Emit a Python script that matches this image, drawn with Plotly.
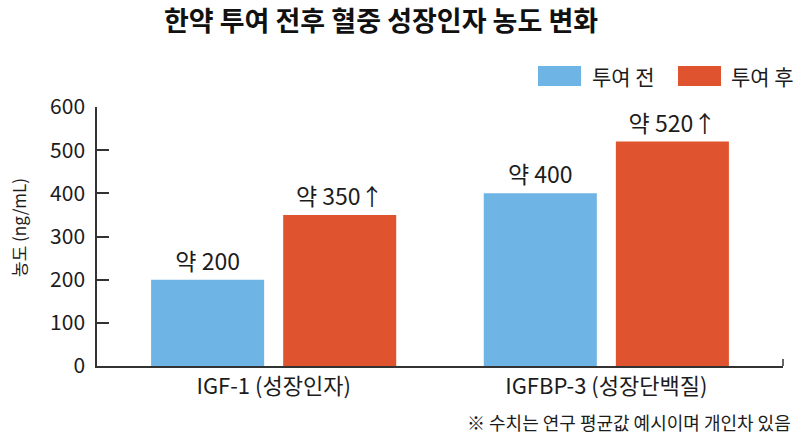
import plotly.graph_objects as go

# data
categories = ["IGF-1 (성장인자)", "IGFBP-3 (성장단백질)"]
before_vals = [200, 400]
after_vals = [350, 520]
before_labels = [f"약 {v}" for v in before_vals]
after_labels = [f"약 {v}↑" for v in after_vals]
series_names = ["투여 전", "투여 후"]

FONT = "Noto Sans CJK KR"
BLUE = "#6EB4E4"
RED = "#E0532F"
INK = "#1c1c1c"

W, H = 800, 436
L, R, T, B = 97, 17, 107, 70
pw, ph = W - L - R, H - T - B


def px_x(x):
    return (x - L) / pw


def px_y(y):
    return (H - B - y) / ph


fig = go.Figure()
fig.add_trace(go.Bar(x=categories, y=before_vals, name=series_names[0],
                     marker_color=BLUE, text=before_labels,
                     textposition="outside", cliponaxis=False))
fig.add_trace(go.Bar(x=categories, y=after_vals, name=series_names[1],
                     marker_color=RED, text=after_labels,
                     textposition="outside", cliponaxis=False))
fig.update_traces(textfont=dict(family=FONT, size=23, color=INK),
                  marker_line_width=0, showlegend=False)

# hand-made legend with wide swatches
legend = [(538, 581, 590, series_names[0], BLUE),
          (678, 721, 729, series_names[1], RED)]
for x0, x1, tx, name, col in legend:
    fig.add_shape(type="rect", xref="paper", yref="paper",
                  x0=px_x(x0), x1=px_x(x1), y0=px_y(86), y1=px_y(66),
                  fillcolor=col, line_width=0)
    fig.add_annotation(text=name, xref="paper", yref="paper",
                       x=px_x(tx), y=px_y(76), xanchor="left", yanchor="middle",
                       showarrow=False, font=dict(family=FONT, size=21, color=INK))

# little end tick on the x axis
fig.add_shape(type="line", xref="paper", yref="paper",
              x0=1, x1=1, y0=0, y1=px_y(359), line=dict(color="#333", width=1.5))

fig.add_annotation(text="농도 (ng/mL)", textangle=-90, xref="paper", yref="paper",
                   x=px_x(18), y=px_y(228), xanchor="center", yanchor="middle",
                   showarrow=False, font=dict(family=FONT, size=17, color=INK))
fig.add_annotation(text="※ 수치는 연구 평균값 예시이며 개인차 있음", xref="paper", yref="paper",
                   x=px_x(793), y=px_y(422), xanchor="right", yanchor="middle",
                   showarrow=False, font=dict(family=FONT, size=18, color=INK))

fig.update_layout(
    width=W, height=H,
    margin=dict(l=L, r=R, t=T, b=B),
    paper_bgcolor="white", plot_bgcolor="white",
    barmode="group", bargap=0.206, bargroupgap=0.144,
    font=dict(family=FONT, color=INK),
    title=dict(text="<b>한약 투여 전후 혈중 성장인자 농도 변화</b>",
               x=381 / W, xanchor="center", y=1 - 22 / H, yanchor="middle",
               font=dict(family=FONT, size=27, color="#111")),
)
fig.update_xaxes(range=[-0.531, 1.531], showline=True, linecolor="#333", linewidth=1.5,
                 ticks="", tickfont=dict(family=FONT, size=22, color=INK),
                 showgrid=False)
fig.update_yaxes(range=[0, 600], dtick=100, showline=True, linecolor="#333", linewidth=1.5,
                 ticks="inside", ticklen=12, tickcolor="#333", tickwidth=1.5,
                 ticklabelstandoff=6,
                 tickfont=dict(family=FONT, size=21, color=INK),
                 showgrid=False, zeroline=False)

# page margin would push the chart off the window
fig.write_html("out.html", config={"displayModeBar": False},
               post_script="document.body.style.margin='0';")
